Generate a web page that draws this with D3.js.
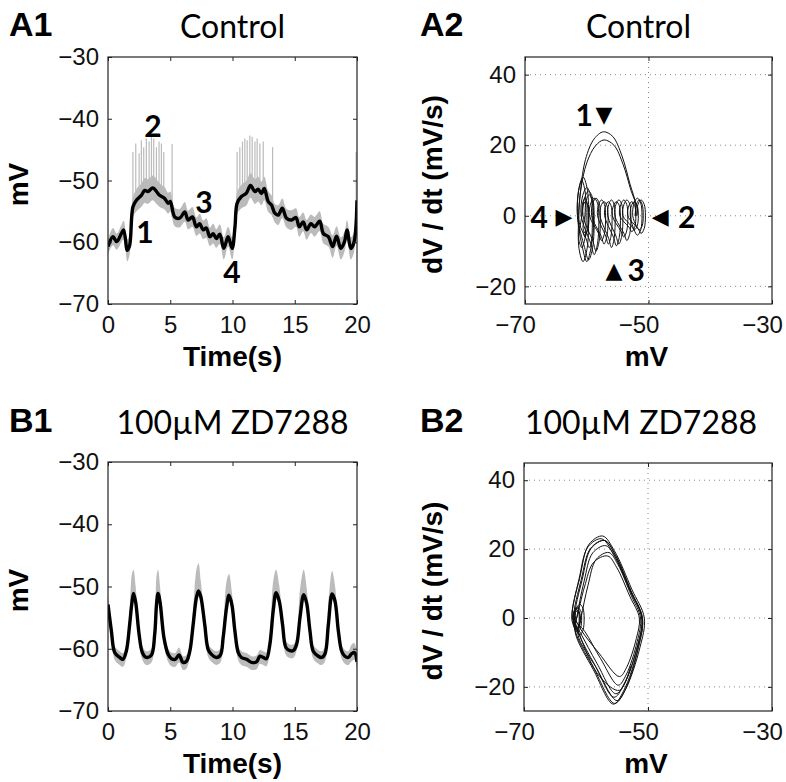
<!DOCTYPE html>
<html><head><meta charset="utf-8">
<script src="https://cdn.jsdelivr.net/npm/d3@7"></script>
<style>body{margin:0;background:#fff}svg{display:block}</style>
</head><body>
<svg id="c" width="786" height="782"></svg>
<script>
// ---------------- DATA ----------------
// A1: Control, smoothed membrane potential (black), time in s, mV
const a1T = [0,0.4,0.7,1.07,1.26,1.55,1.74,2.0,2.28,2.68,2.95,3.2,3.6,3.9,4.15,4.55,4.83,5.0,5.36,5.76,6.17,6.43,6.78,7.1,7.37,7.64,7.9,8.18,8.45,8.7,8.98,9.3,9.65,9.97,10.2,10.37,10.72,11.1,11.45,11.8,12.06,12.33,12.55,12.87,13.14,13.4,13.67,14.0,14.34,14.74,15.1,15.36,15.68,15.95,16.3,16.6,17.0,17.3,17.7,18.04,18.36,18.7,19.0,19.2,19.5,19.76,20];
const a1V = [-60.7,-59.1,-59.9,-58.6,-58.0,-61.3,-60.5,-54.3,-53.2,-52.4,-51.6,-51.8,-51.2,-51.8,-52.4,-52.9,-53.7,-53.4,-55.9,-56.1,-55.1,-56.4,-55.9,-57.5,-57.0,-58.0,-57.7,-59.1,-58.6,-59.4,-58.7,-61.0,-59.1,-61.0,-57.5,-53.7,-52.6,-52.1,-50.8,-51.8,-51.4,-52.1,-51.3,-53.4,-54.0,-55.3,-55.6,-54.5,-56.1,-56.4,-56.0,-57.5,-56.7,-58.0,-57.0,-57.5,-56.6,-58.6,-59.1,-60.7,-59.0,-61.0,-59.9,-58.0,-61.0,-60.0,-53.2];
// A1: half-width of the grey raw-trace band (mV) at the same times
const a1Noise = [1.2,1.4,1.3,1.4,1.5,1.8,1.5,1.6,1.8,1.9,2.0,2.0,2.0,2.0,1.9,1.8,1.7,1.6,1.5,1.5,1.6,1.5,1.6,1.5,1.6,1.5,1.6,1.5,1.6,1.5,1.6,1.8,1.6,1.8,1.6,1.8,1.9,2.0,2.0,2.0,2.0,1.9,1.9,1.7,1.6,1.5,1.6,1.6,1.5,1.6,1.5,1.6,1.5,1.6,1.5,1.6,1.6,1.6,1.6,1.8,1.6,1.8,1.6,1.6,1.8,1.6,1.5];
// A1: spikes in the raw trace (time s, peak mV)
const a1SpikeT = [2.0,2.23,2.5,2.68,2.87,3.08,3.3,3.49,3.67,3.89,4.1,4.29,4.48,5.15,10.37,10.59,10.8,10.99,11.18,11.39,11.58,11.8,11.98,12.2,12.47,13.22,19.93];
const a1SpikeV = [-45.4,-44.0,-45.6,-43.5,-44.6,-43.2,-43.7,-42.9,-43.2,-44.6,-43.7,-44.0,-45.4,-44.1,-45.4,-44.6,-43.7,-43.2,-43.5,-42.7,-42.9,-43.7,-43.2,-44.0,-43.7,-44.6,-45.4];
// A1 phase labels: text, time, mV
const a1Labels = ["1","2","3","4"];
const a1LabelT = [2.97,3.61,7.71,9.96];
const a1LabelV = [-58.3,-41.2,-53.5,-64.9];

// A2: phase plane (mV, dV/dt), loops = [centre mV, half-width mV, top dV/dt, bottom dV/dt]
const a2StartLoops = [[-60.2,0.55,4,-5],[-59.6,0.7,6,-9]];
const a2Arc1 = [[-61.2,-2],[-61.0,7],[-60.2,16],[-58.8,21.8],[-57.3,23.8],[-55.8,22.5],[-54.3,17],[-53.0,9],[-52.1,3.5]];
const a2Loops1 = [[-51.5,0.65,4.5,-4],[-51.8,0.75,5,-5.5],[-52.3,0.65,4,-4],[-53.5,0.65,4.5,-7],[-54.8,0.65,4.5,-8],[-56.0,0.6,4.5,-9],[-57.2,0.65,4,-8],[-58.5,0.7,5,-10],[-59.7,0.9,7,-12.5],[-60.6,0.9,11,-13]];
const a2Arc2 = [[-61.3,0],[-61.0,7],[-60.0,15],[-58.6,19.8],[-57.2,21.5],[-55.6,20],[-54.1,14.5],[-52.8,7],[-51.8,2]];
const a2Loops2 = [[-51.2,0.7,4.5,-5],[-52.7,0.65,4,-4.5],[-54.0,0.65,4.5,-6],[-55.2,0.65,4,-8.5],[-56.5,0.6,4,-8],[-57.6,0.65,4.5,-7],[-58.8,0.75,5,-11],[-60.0,0.9,8,-13],[-60.8,0.7,10,-9],[-60.3,0.5,5,-6]];
// A2 annotations: text, mV, dV/dt
const a2Marks = ["1","▼","4","▶","◀","2","▲","3"];
const a2MarkV = [-60.4,-57.2,-67.7,-63.7,-48.1,-43.8,-55.6,-52.0];
const a2MarkD = [28.6,28.9,-0.3,0,0,-0.3,-15.3,-15.3];

// B1: 100 µM ZD7288, smoothed trace
const b1T = [0,0.27,0.54,0.94,1.2,1.47,1.74,1.92,2.05,2.22,2.5,2.76,3.08,3.49,3.75,3.9,4.02,4.18,4.5,4.83,5.1,5.4,5.7,6.03,6.3,6.57,6.84,7.1,7.27,7.45,7.77,8.04,8.31,8.7,9.03,9.25,9.52,9.72,9.95,10.19,10.46,10.72,11.13,11.53,11.93,12.2,12.47,12.73,13.0,13.27,13.5,13.75,14.02,14.29,14.61,14.88,15.15,15.42,15.72,15.95,16.22,16.49,16.89,17.16,17.43,17.7,18.0,18.23,18.5,18.77,19.03,19.3,19.57,19.8,20];
const b1V = [-52.9,-57.1,-60.6,-61.4,-61.7,-60.4,-56.1,-52.6,-51.1,-52.5,-57.7,-60.6,-61.4,-61.0,-57.7,-52.8,-51.1,-52.5,-58.3,-60.9,-61.6,-61.7,-61.0,-62.2,-62.0,-60.4,-56.1,-51.8,-50.7,-51.6,-56.1,-60.1,-60.9,-61.4,-61.0,-58.2,-53.4,-51.4,-52.9,-57.1,-60.6,-61.4,-61.7,-62.2,-62.1,-61.2,-61.4,-61.6,-59.3,-53.9,-51.0,-52.3,-56.1,-59.8,-60.3,-60.3,-59.3,-55.0,-51.3,-52.6,-57.1,-60.4,-61.2,-61.4,-60.8,-56.1,-51.2,-52.3,-57.1,-60.4,-61.2,-61.4,-60.8,-60.6,-62.1];
// B1: grey raw-trace envelope above / below the smoothed trace (mV)
const b1Up = [1.5,1,1,1,1,1,2.5,4.6,3.8,2.5,1,1,1,1,1.5,4.5,3.8,2.5,1,1,1,1,1.2,1,1,1,2.5,4.5,4.4,2.5,1,1,1,1,1,1.5,4.2,3.4,2.0,1,1,1,1,1,1,1,1,1,1.5,4.8,3.7,2.5,1.2,1,1,1,1.2,4.5,4.0,2.5,1,1,1,1,1,3.5,3.7,2.5,1,1,1,1,1.5,1.5,1];
const b1Down = [1,1,1.2,1.2,1.2,1,1,1,1,1,1,1.2,1.2,1.2,1,1,1,1,1,1.2,1.2,1.2,1.2,1.2,1.2,1,1,1,1,1,1,1.2,1.2,1.2,1.2,1,1,1,1,1,1.2,1.2,1.2,1.2,1.2,1.2,1.2,1.2,1,1,1,1,1,1.2,1.2,1.2,1,1,1,1,1,1.2,1.2,1.2,1.2,1,1,1,1,1.2,1.2,1.2,1.2,1.2,1.2];

// B2: phase-plane cycles = [left mV, right mV, mV at top, top dV/dt, mV at bottom, bottom dV/dt]
const b2Start = [[-52.8,-14],[-54.6,-21],[-57.8,-17],[-61.0,-5]];
const b2Cycles = [
  [-61.8,-51.0,-57.0,22.5,-55.5,-23],
  [-61.5,-51.0,-56.8,21,-55.2,-22],
  [-62.2,-50.6,-57.3,23.8,-55.4,-24.8],
  [-61.5,-51.4,-56.5,18,-54.6,-17],
  [-62.0,-50.9,-57.0,22.5,-55.0,-24],
  [-60.8,-51.2,-56.3,19,-54.8,-19.5],
  [-62.3,-50.9,-57.5,23,-55.6,-25]
];
// small loops near rest between cycles: [centre mV, half-width, top, bottom] (null = none)
const b2Rest = [[-61.3,0.6,3,-4],null,[-61.6,0.5,2.5,-3],[-61.0,0.7,4,-5],null,[-61.5,0.5,3,-4],[-61.4,0.5,2,-3]];

// axes
const tTicks = [0,5,10,15,20];
const vTicks = [-70,-60,-50,-40,-30];
const pvTicks = [-70,-50,-30];
const dTicks = [-20,0,20,40];

// ---------------- DRAWING ----------------
const svg = d3.select("#c");
const SANS = '"Liberation Sans", Arial, Helvetica, sans-serif';
const TITLE = 'Lato, "Open Sans", sans-serif';
const fmt = d => d < 0 ? "\u2212" + Math.abs(d) : String(d);

function panel(o) {
  const x = d3.scaleLinear().domain(o.xd).range([o.l, o.r]);
  const y = d3.scaleLinear().domain(o.yd).range([o.b, o.t]);
  const g = svg.append("g");
  if (o.grid) {
    g.selectAll(".hg").data(o.yTicks.filter(v => v > o.yd[0] && v < o.yd[1])).join("line")
      .attr("x1", o.l).attr("x2", o.r).attr("y1", d => y(d)).attr("y2", d => y(d))
      .attr("stroke", "#888").attr("stroke-width", 1).attr("stroke-dasharray", "1,4");
    g.selectAll(".vg").data(o.xTicks.filter(v => v > o.xd[0] && v < o.xd[1])).join("line")
      .attr("y1", o.t).attr("y2", o.b).attr("x1", d => x(d)).attr("x2", d => x(d))
      .attr("stroke", "#888").attr("stroke-width", 1).attr("stroke-dasharray", "1,4");
  }
  const clipId = "clip" + o.id;
  svg.append("clipPath").attr("id", clipId).append("rect")
    .attr("x", o.l).attr("y", o.t).attr("width", o.r - o.l).attr("height", o.b - o.t);
  const data = g.append("g").attr("clip-path", `url(#${clipId})`);
  const axes = g.append("g");
  const style = sel => {
    sel.select(".domain").remove();
    sel.selectAll("line").attr("stroke", "#222");
    sel.selectAll("text").attr("font-family", SANS).attr("font-size", 24).attr("fill", "#111");
  };
  axes.append("g").attr("transform", `translate(${o.l},0)`)
    .call(d3.axisLeft(y).tickValues(o.yTicks).tickSize(-4).tickPadding(9).tickFormat(fmt)).call(style);
  axes.append("g").attr("transform", `translate(${o.r},0)`)
    .call(d3.axisRight(y).tickValues(o.yTicks).tickSize(-4).tickFormat("")).call(style);
  axes.append("g").attr("transform", `translate(0,${o.b})`)
    .call(d3.axisBottom(x).tickValues(o.xTicks).tickSize(-4).tickPadding(12).tickFormat(fmt)).call(style)
    .selectAll("text").attr("dx", d => d < 0 ? -10 : 0);
  axes.append("g").attr("transform", `translate(0,${o.t})`)
    .call(d3.axisTop(x).tickValues(o.xTicks).tickSize(-4).tickFormat("")).call(style);
  axes.append("rect").attr("x", o.l).attr("y", o.t).attr("width", o.r - o.l).attr("height", o.b - o.t)
    .attr("fill", "none").attr("stroke", "#222").attr("stroke-width", 1.2);
  // titles
  svg.append("text").attr("x", o.tagX).attr("y", o.tagY).text(o.tag)
    .attr("font-family", SANS).attr("font-weight", "bold").attr("font-size", 34);
  svg.append("text").attr("x", (o.l + o.r) / 2 + (o.titleDx || 0)).attr("y", o.tagY + 2).text(o.title)
    .attr("text-anchor", "middle").attr("font-family", TITLE).attr("font-size", 32);
  svg.append("text").attr("x", (o.l + o.r) / 2 + (o.xlDx || 0)).attr("y", o.b + 62).text(o.xLabel)
    .attr("text-anchor", "middle").attr("font-family", SANS).attr("font-weight", "bold").attr("font-size", 28);
  svg.append("text").attr("transform", `translate(${o.ylX},${(o.t + o.b) / 2 + 4}) rotate(-90)`).text(o.yLabel)
    .attr("text-anchor", "middle").attr("font-family", SANS).attr("font-weight", "bold").attr("font-size", 28);
  return { x, y, data };
}

const smooth = d3.curveCatmullRom.alpha(0.5);

function loopPts(l) {
  const [c, w, top, bot] = l, k = 0.72;
  return [[c - w, 0], [c - k * w, k * top], [c, top], [c + k * w, k * top], [c + w, 0],
          [c + k * w, k * bot], [c, bot], [c - k * w, k * bot]];
}

// ---- A1 ----
{
  const p = panel({ id: "A1", l: 108, r: 357, t: 57, b: 304, xd: [0, 20], yd: [-70, -30],
    xTicks: tTicks, yTicks: vTicks, tag: "A1", tagX: 9, tagY: 36, title: "Control",
    xLabel: "Time(s)", yLabel: "mV", ylX: 28 });
  const idx = d3.range(a1T.length);
  const base = d3.scaleLinear().domain(a1T).range(a1V);
  p.data.append("path").datum(idx).attr("fill", "#bbbbbb")
    .attr("d", d3.area().x(i => p.x(a1T[i])).y0(i => p.y(a1V[i] - a1Noise[i])).y1(i => p.y(a1V[i] + a1Noise[i])).curve(smooth));
  p.data.selectAll(".sp").data(d3.range(a1SpikeT.length)).join("line")
    .attr("x1", i => p.x(a1SpikeT[i])).attr("x2", i => p.x(a1SpikeT[i]))
    .attr("y1", i => p.y(base(a1SpikeT[i]) - 1.5)).attr("y2", i => p.y(a1SpikeV[i]))
    .attr("stroke", "#bbbbbb").attr("stroke-width", 1.2);
  p.data.append("path").datum(idx).attr("fill", "none").attr("stroke", "#000").attr("stroke-width", 3.4)
    .attr("stroke-linejoin", "round")
    .attr("d", d3.line().x(i => p.x(a1T[i])).y(i => p.y(a1V[i])).curve(smooth));
  svg.selectAll(".a1l").data(d3.range(a1Labels.length)).join("text")
    .attr("x", i => p.x(a1LabelT[i])).attr("y", i => p.y(a1LabelV[i])).attr("dy", "0.36em")
    .attr("text-anchor", "middle").attr("font-family", TITLE).attr("font-weight", "bold").attr("font-size", 30)
    .text(i => a1Labels[i]);
}

// ---- A2 ----
{
  const p = panel({ id: "A2", l: 525, r: 772, t: 57, b: 304, xd: [-70, -30], yd: [-25, 45], grid: true,
    xTicks: pvTicks, yTicks: dTicks, tag: "A2", tagX: 420, tagY: 36, title: "Control", titleDx: -10,
    xLabel: "mV", xlDx: -2, yLabel: "dV / dt (mV/s)", ylX: 442 });
  const pts = [].concat(
    a2StartLoops.flatMap(loopPts), a2Arc1, a2Loops1.flatMap(loopPts), a2Arc2, a2Loops2.flatMap(loopPts));
  p.data.append("path").datum(pts).attr("fill", "none").attr("stroke", "#111").attr("stroke-width", 1)
    .attr("d", d3.line().x(d => p.x(d[0])).y(d => p.y(d[1])).curve(smooth));
  svg.selectAll(".a2m").data(d3.range(a2Marks.length)).join("text")
    .attr("x", i => p.x(a2MarkV[i])).attr("y", i => p.y(a2MarkD[i])).attr("dy", "0.36em")
    .attr("text-anchor", "middle")
    .attr("font-family", i => /[0-9]/.test(a2Marks[i]) ? TITLE : '"DejaVu Sans", sans-serif')
    .attr("font-weight", "bold").attr("font-size", i => /[0-9]/.test(a2Marks[i]) ? 30 : 22)
    .text(i => a2Marks[i]);
}

// ---- B1 ----
{
  const p = panel({ id: "B1", l: 108, r: 357, t: 462, b: 711, xd: [0, 20], yd: [-70, -30],
    xTicks: tTicks, yTicks: vTicks, tag: "B1", tagX: 9, tagY: 432, title: "100\u00B5M ZD7288",
    xLabel: "Time(s)", yLabel: "mV", ylX: 28 });
  const idx = d3.range(b1T.length);
  p.data.append("path").datum(idx).attr("fill", "#bbbbbb")
    .attr("d", d3.area().x(i => p.x(b1T[i])).y0(i => p.y(b1V[i] - b1Down[i])).y1(i => p.y(b1V[i] + b1Up[i])).curve(smooth));
  p.data.append("path").datum(idx).attr("fill", "none").attr("stroke", "#000").attr("stroke-width", 3.4)
    .attr("stroke-linejoin", "round")
    .attr("d", d3.line().x(i => p.x(b1T[i])).y(i => p.y(b1V[i])).curve(smooth));
}

// ---- B2 ----
{
  const p = panel({ id: "B2", l: 524, r: 772, t: 463, b: 711, xd: [-70, -30], yd: [-27, 45], grid: true,
    xTicks: pvTicks, yTicks: dTicks, tag: "B2", tagX: 420, tagY: 432, title: "100\u00B5M ZD7288", titleDx: -7,
    xLabel: "mV", xlDx: -2, yLabel: "dV / dt (mV/s)", ylX: 442 });
  function cyclePts(c) {
    const [vl, vr, tv, top, bv, bot] = c;
    return [[vl, 0], [vl + 0.25 * (tv - vl), 0.5 * top], [vl + 0.55 * (tv - vl), 0.9 * top], [tv, top],
      [tv + 0.28 * (vr - tv), 0.82 * top], [tv + 0.7 * (vr - tv), 0.35 * top], [vr, 0],
      [vr - 0.15 * (vr - bv), 0.35 * bot], [bv + 0.35 * (vr - bv), 0.85 * bot], [bv, bot],
      [bv - 0.48 * (bv - vl), 0.6 * bot], [vl + 0.1 * (bv - vl), 0.2 * bot]];
  }
  let pts = b2Start.slice();
  b2Cycles.forEach((c, i) => {
    pts = pts.concat(cyclePts(c));
    if (b2Rest[i]) pts = pts.concat(loopPts(b2Rest[i]));
  });
  p.data.append("path").datum(pts).attr("fill", "none").attr("stroke", "#111").attr("stroke-width", 1)
    .attr("d", d3.line().x(d => p.x(d[0])).y(d => p.y(d[1])).curve(smooth));
}
</script>
</body></html>
